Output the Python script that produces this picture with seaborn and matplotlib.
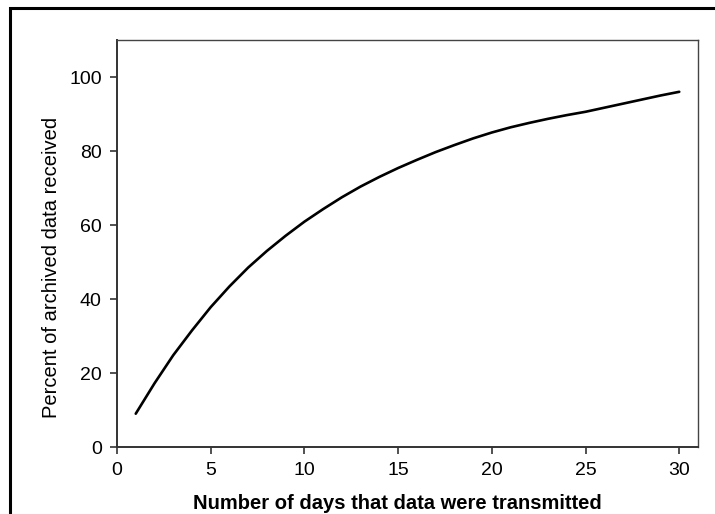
import matplotlib
matplotlib.use("Agg")
import matplotlib.pyplot as plt
import seaborn as sns
import pandas as pd

# 전송 일수 vs 수신된 아카이브 데이터 비율
days = list(range(1, 31))
percent = [9, 17.2, 24.8, 31.5, 37.8, 43.4, 48.5, 53.0, 57.1, 60.9,
           64.3, 67.5, 70.4, 73, 75.4, 77.6, 79.7, 81.6, 83.4, 85,
           86.4, 87.6, 88.7, 89.7, 90.6, 91.7, 92.8, 93.9, 95, 96]

df = pd.DataFrame({'days': days, 'percent': percent})

sns.set_style('ticks')
plt.rcParams['font.family'] = ['Liberation Sans', 'DejaVu Sans']
plt.rcParams['text.color'] = 'black'
plt.rcParams['axes.labelcolor'] = 'black'
plt.rcParams['xtick.color'] = 'black'
plt.rcParams['ytick.color'] = 'black'

fig = plt.figure(figsize=(7.15, 5.14), dpi=100)
ax = fig.add_axes([117 / 715, 1 - 447 / 514, (698 - 117) / 715, (447 - 40) / 514])

sns.lineplot(data=df, x='days', y='percent', ax=ax, color='black', linewidth=1.9)

ax.set_xlim(0, 31)
ax.set_ylim(0, 110)
ax.set_xticks(range(0, 31, 5))
ax.set_yticks(range(0, 101, 20))
ax.tick_params(labelsize=14, length=5, width=1.2, color='#333333', pad=6)

for side in ['left', 'bottom']:
    ax.spines[side].set_linewidth(1.4)
    ax.spines[side].set_color('#333333')
for side in ['top', 'right']:
    ax.spines[side].set_visible(True)
    ax.spines[side].set_linewidth(1.0)
    ax.spines[side].set_color('#444444')

ax.set_xlabel('Number of days that data were transmitted', fontsize=14.5, fontweight='bold')
ax.set_ylabel('Percent of archived data received', fontsize=14.5)
ax.xaxis.set_label_coords(0.482, -0.115)
ax.yaxis.set_label_coords(-0.096, 0.44)

# 바깥 테두리
border = plt.Rectangle((10 / 715, -0.1), 1.2, 1 - 8 / 514 + 0.1, transform=fig.transFigure,
                       fill=False, edgecolor='black', linewidth=2.2)
fig.patches.append(border)

fig.savefig('out.png', dpi=100)
